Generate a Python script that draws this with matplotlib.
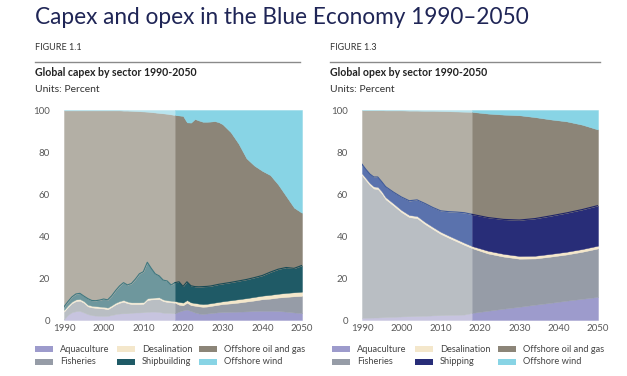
import numpy as np
import matplotlib
matplotlib.use('Agg')
import matplotlib.pyplot as plt
from matplotlib.patches import Rectangle

plt.rcParams['font.family'] = ['Lato', 'DejaVu Sans']

# ---- capex shares by sector (percent) ----
capex_years = [1990, 1991, 1992, 1993, 1994, 1995, 1996, 1997, 1998, 1999,
               2000, 2001, 2002, 2003, 2004, 2005, 2006, 2007, 2008, 2009,
               2010, 2011, 2012, 2013, 2014, 2015, 2016, 2017, 2018, 2019,
               2020, 2021, 2022, 2023, 2024, 2025, 2026, 2027, 2028, 2029,
               2030, 2032, 2034, 2036, 2038, 2040, 2042, 2044, 2046, 2048, 2050]
capex_aquaculture = [0.3, 2.5, 3.7, 4.2, 4.3, 3.6, 2.8, 2.3, 2.1, 2.0,
                     1.9, 2.0, 2.4, 2.8, 3.1, 3.2, 3.2, 3.4, 3.6, 3.6,
                     3.7, 3.9, 4.0, 4.0, 3.8, 3.5, 3.4, 3.3, 3.2, 4.0,
                     4.6, 5.0, 4.3, 3.6, 3.1, 2.9, 3.1, 3.3, 3.5, 3.7,
                     3.8, 3.9, 4.0, 4.1, 4.3, 4.4, 4.4, 4.3, 4.0, 3.6, 3.3]
capex_fisheries = [3.7, 3.7, 4.3, 4.8, 4.9, 4.6, 3.7, 3.7, 3.7, 3.6,
                   3.6, 3.1, 3.8, 4.6, 5.1, 5.5, 4.8, 4.2, 4.0, 4.0,
                   4.0, 5.6, 5.8, 5.9, 6.2, 5.5, 5.2, 5.1, 5.0, 3.3,
                   2.4, 3.2, 2.8, 3.2, 3.4, 3.4, 3.3, 3.4, 3.5, 3.6,
                   3.8, 4.0, 4.3, 4.7, 5.0, 5.5, 5.8, 6.4, 7.0, 7.7, 8.2]
capex_desalination = [0.8] * 29 + [1.3] * 12 + [1.5, 1.6, 1.6, 1.7, 1.7, 1.8, 1.8, 1.9, 1.9, 2.0]
capex_shipbuilding = [1.5, 1.8, 2.2, 2.6, 2.7, 2.4, 2.9, 2.5, 2.6, 3.1,
                      3.7, 3.7, 4.5, 5.8, 7.2, 8.3, 7.9, 9.0, 11.1, 13.6,
                      14.5, 17.2, 14.0, 11.3, 10.2, 9.2, 9.2, 7.5, 8.8, 9.6,
                      7.7, 8.7, 7.9, 7.8, 8.0, 8.3, 8.3, 8.2, 8.3, 8.4,
                      8.4, 8.5, 8.7, 8.9, 9.2, 9.6, 10.8, 11.7, 12.1, 11.4, 12.5]
capex_oil_gas = [93.5, 91.0, 88.8, 87.4, 87.1, 88.4, 89.6, 90.5, 90.6, 90.3,
                 89.8, 90.2, 88.3, 85.8, 83.6, 81.9, 83.0, 82.2, 80.0, 77.4,
                 76.3, 71.7, 74.4, 76.8, 77.6, 79.4, 79.6, 81.2, 79.8, 79.2,
                 81.2, 75.9, 77.7, 79.8, 79.2, 78.5, 78.4, 78.3, 78.1, 77.2,
                 75.9, 71.6, 65.4, 57.7, 53.3, 49.8, 46.2, 40.3, 34.0, 28.9, 25.0]
capex_wind = [0.2] * 15 + [0.3, 0.3, 0.4, 0.5, 0.6,
                           0.7, 0.8, 1.0, 1.2, 1.4, 1.6, 1.8, 2.1, 2.4, 2.6,
                           2.8, 5.9, 6.0, 4.3, 5.0, 5.6, 5.6, 5.5, 5.3, 5.8,
                           6.8, 10.5, 16.0, 23.0, 26.5, 29.0, 31.0, 35.5, 41.0, 46.5, 49.0]

# ---- opex shares by sector (percent) ----
opex_years = [1990, 1991, 1992, 1993, 1994, 1995, 1996, 1998, 2000, 2002,
              2004, 2006, 2008, 2010, 2012, 2014, 2016, 2018, 2022, 2026,
              2030, 2034, 2038, 2042, 2046, 2050]
opex_aquaculture = [1.0, 1.1, 1.1, 1.2, 1.2, 1.3, 1.4, 1.5, 1.7, 1.8,
                    1.9, 2.0, 2.2, 2.3, 2.4, 2.5, 2.6, 3.4, 4.4, 5.4,
                    6.3, 7.3, 8.2, 9.2, 10.1, 11.0]
opex_fisheries = [67.8, 65.4, 63.1, 61.4, 61.2, 59.0, 56.1, 53.0, 49.7, 47.2,
                  46.6, 43.7, 41.1, 38.7, 36.8, 35.0, 33.2, 30.8, 27.3, 24.8,
                  22.9, 22.0, 22.0, 22.0, 22.4, 23.1]
opex_desalination = [1.0] * 18 + [1.3] * 8
opex_shipping = [4.4, 4.2, 4.3, 4.5, 4.7, 4.6, 5.0, 5.4, 6.2, 6.8,
                 7.7, 8.8, 9.3, 10.0, 11.4, 12.9, 14.3, 15.1, 15.8, 16.4,
                 17.1, 17.7, 18.1, 18.5, 18.8, 19.1]
opex_oil_gas = [25.7, 28.2, 30.4, 31.8, 31.8, 34.0, 36.3, 38.9, 41.2, 42.9,
                42.5, 44.1, 46.0, 47.5, 47.8, 47.9, 48.1, 48.8, 49.5, 49.9,
                49.9, 48.3, 45.9, 43.6, 40.4, 36.2]
opex_wind = [0.1, 0.1, 0.1, 0.1, 0.1, 0.1, 0.2, 0.2, 0.2, 0.3,
             0.3, 0.4, 0.4, 0.5, 0.6, 0.7, 0.8, 0.9, 1.7, 2.2,
             2.5, 3.4, 4.5, 5.4, 7.0, 9.3]

split_year = 2018

capex_labels = ['Aquaculture', 'Fisheries', 'Desalination', 'Shipbuilding',
                'Offshore oil and gas', 'Offshore wind']
opex_labels = ['Aquaculture', 'Fisheries', 'Desalination', 'Shipping',
               'Offshore oil and gas', 'Offshore wind']

capex_dark = ['#9d9bcc', '#969ca7', '#f4e7cb', '#1f5a66', '#8c8578', '#88d4e5']
capex_light = ['#c7c4df', '#b9bec3', '#f5ecd8', '#6e979d', '#b3afa5', '#b8e4ee']
opex_dark = ['#9d9bcc', '#969ca7', '#f4e7cb', '#282d78', '#8c8578', '#88d4e5']
opex_light = ['#c7c4df', '#b9bec3', '#f5ecd8', '#5a72ad', '#b3afa5', '#b8e4ee']

navy = '#1f2556'
grey = '#5a5a5a'

W, H = 627, 376
fig = plt.figure(figsize=(W / 100, H / 100), dpi=100)


def fx(px):
	return px / W


def fy(py):
	return 1 - py / H


def draw_panel(ax, years, layers, light, dark, edge_idx, edge_cols):
	yrs = np.array(years)
	data = np.array(layers, dtype=float)
	hist = yrs <= split_year
	fut = yrs >= split_year
	ax.stackplot(yrs[hist], data[:, hist], colors=light, edgecolor='face', linewidth=0.3)
	ax.stackplot(yrs[fut], data[:, fut], colors=dark, edgecolor='face', linewidth=0.3)
	# thin darker line along the top of one band
	top = data[:edge_idx + 1].sum(axis=0)
	ax.plot(yrs[hist], top[hist], color=edge_cols[0], lw=0.8)
	ax.plot(yrs[fut], top[fut], color=edge_cols[1], lw=0.8)
	ax.set_xlim(1990, 2050)
	ax.set_ylim(0, 100)
	ax.set_xticks(range(1990, 2051, 10))
	ax.set_yticks(range(0, 101, 20))
	ax.tick_params(length=0, labelsize=7, colors=grey)
	ax.tick_params(axis='y', pad=10)
	ax.tick_params(axis='x', pad=3)
	for s in ax.spines.values():
		s.set_visible(False)


ax1 = fig.add_axes([fx(64), fy(320), fx(238), 210 / H])
ax2 = fig.add_axes([fx(362), fy(320), fx(236), 210 / H])

draw_panel(ax1, capex_years,
           [capex_aquaculture, capex_fisheries, capex_desalination,
            capex_shipbuilding, capex_oil_gas, capex_wind],
           capex_light, capex_dark, 3, ['#3f7880', '#184a55'])
draw_panel(ax2, opex_years,
           [opex_aquaculture, opex_fisheries, opex_desalination,
            opex_shipping, opex_oil_gas, opex_wind],
           opex_light, opex_dark, 3, ['#3f5a9a', '#1e2366'])

# titles and headers
fig.text(fx(35), fy(18), 'Capex and opex in the Blue Economy 1990\u20132050',
         fontsize=16.3, color=navy, va='center', ha='left')
for x0, x1, fig_no, sub in [(35, 300, 'FIGURE 1.1', 'Global capex by sector 1990-2050'),
                            (330, 600, 'FIGURE 1.3', 'Global opex by sector 1990-2050')]:
	fig.text(fx(x0), fy(47), fig_no, fontsize=6.5, color='#333333', va='center')
	fig.add_artist(plt.Line2D([fx(x0), fx(x1)], [fy(62), fy(62)], color='#8a8a8a', lw=1.0))
	fig.text(fx(x0), fy(73), sub, fontsize=7.6, fontweight='bold', color='#222222', va='center')
	fig.text(fx(x0), fy(90), 'Units: Percent', fontsize=7.5, color='#333333', va='center')

# legends: three columns, two rows each
for labels, cols, col_x in [(capex_labels, capex_dark, [35, 117, 199]),
                            (opex_labels, opex_dark, [332, 415, 498])]:
	for i, (lab, col) in enumerate(zip(labels, cols)):
		cx = col_x[i // 2]
		ry = [349, 362][i % 2]
		fig.add_artist(Rectangle((fx(cx), fy(ry + 3)), fx(18), 6 / H,
		                         facecolor=col, edgecolor='none', transform=fig.transFigure))
		fig.text(fx(cx + 25), fy(ry), lab, fontsize=6.7, color='#444444', va='center')

plt.savefig('out.png', dpi=100)
